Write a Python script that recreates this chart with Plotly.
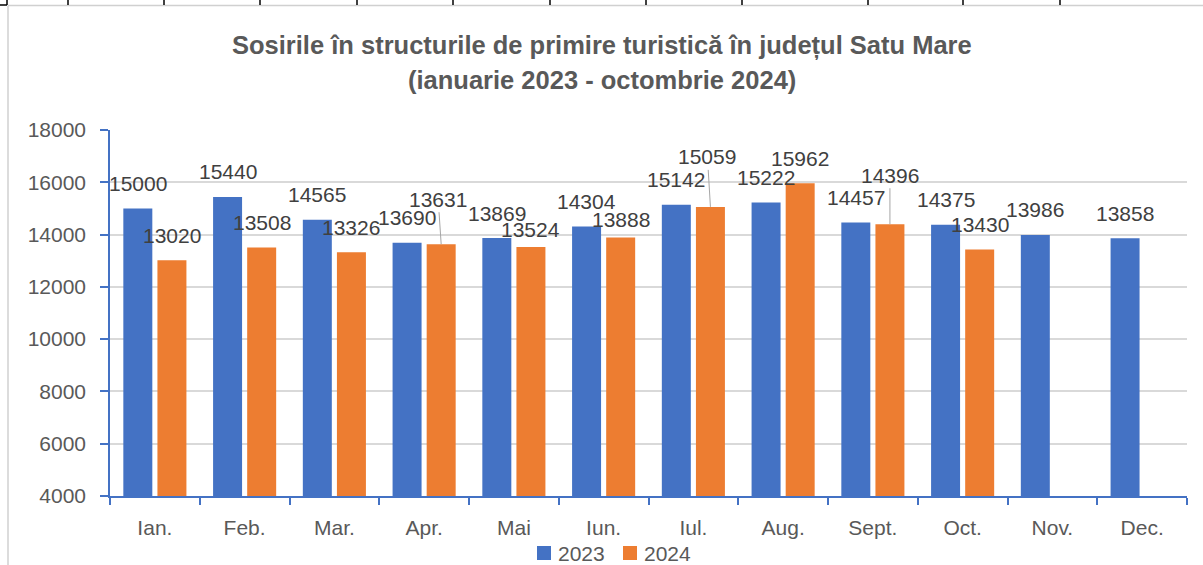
import plotly.graph_objects as go

# ---------------- data ----------------
months = ["Ian.", "Feb.", "Mar.", "Apr.", "Mai", "Iun.", "Iul.", "Aug.", "Sept.", "Oct.", "Nov.", "Dec."]
values_2023 = [15000, 15440, 14565, 13690, 13869, 14304, 15142, 15222, 14457, 14375, 13986, 13858]
values_2024 = [13020, 13508, 13326, 13631, 13524, 13888, 15059, 15962, 14396, 13430, None, None]
series_names = ["2023", "2024"]
y_ticks = [4000, 6000, 8000, 10000, 12000, 14000, 16000, 18000]

title_line1 = "Sosirile în structurile de primire turistică în județul Satu Mare"
title_line2 = "(ianuarie 2023 - octombrie 2024)"

# ---------------- style ----------------
BLUE = "#4472C4"
ORANGE = "#ED7D31"
GRID = "#D9D9D9"
TXT = "#595959"
LBL = "#404040"
FONT = "Liberation Sans"
FS = 21

W, H = 1203, 565
ML, MR, MT, MB = 110, 16, 130, 69
PW, PH = W - ML - MR, H - MT - MB

BARGAP = 0.24
BARGROUPGAP = 0.15
slot = (1 - BARGAP) / 2
series_offset = [-slot / 2, slot / 2]
series_colors = [BLUE, ORANGE]

# label pixel offsets: default above bar; some adjusted (dx, dy, leader line)
DEFAULT_DY = 25
label_adjust = {
    (1, 3): (-3, 45, True),
    (1, 4): (0, 18, False),
    (1, 5): (0, 18, False),
    (1, 6): (-3, 50, True),
    (1, 8): (0, 49, True),
}

fig = go.Figure()
for si, (name, vals) in enumerate(zip(series_names, [values_2023, values_2024])):
    fig.add_trace(go.Bar(
        name=name, x=months, y=vals, marker=dict(color=series_colors[si], line=dict(width=0)),
        hoverinfo="x+y",
    ))


def px(xp):
    return (xp - ML) / PW


def py(yp):
    return (H - MB - yp) / PH


annotations = []
for si, vals in enumerate([values_2023, values_2024]):
    for mi, v in enumerate(vals):
        if v is None:
            continue
        dx, dy, leader = label_adjust.get((si, mi), (0, DEFAULT_DY, False))
        xpos = mi + series_offset[si]
        if leader:
            annotations.append(dict(
                x=xpos, y=v, xref="x", yref="y", text=str(v), showarrow=True,
                arrowhead=0, arrowwidth=1, arrowcolor="#A6A6A6", standoff=0,
                ax=dx, ay=-dy, font=dict(family=FONT, size=FS, color=LBL),
            ))
        else:
            annotations.append(dict(
                x=xpos, y=v, xref="x", yref="y", text=str(v), showarrow=False,
                xshift=dx, yshift=dy, yanchor="middle", xanchor="center",
                font=dict(family=FONT, size=FS, color=LBL),
            ))

# title as two annotations
for txt, yc in [(title_line1, 45), (title_line2, 80)]:
    annotations.append(dict(
        x=px(W / 2), y=py(yc), xref="paper", yref="paper", text="<b>" + txt + "</b>",
        showarrow=False, xanchor="center", yanchor="middle",
        font=dict(family=FONT, size=25.5, color=TXT),
    ))

shapes = []
# manual legend (squares + series names)
legend_x = [537, 623]
for si, name in enumerate(series_names):
    x0 = legend_x[si]
    shapes.append(dict(type="rect", xref="paper", yref="paper",
                       x0=px(x0), x1=px(x0 + 14), y0=py(546), y1=py(560),
                       fillcolor=series_colors[si], line=dict(width=0), layer="above"))
    annotations.append(dict(x=px(x0 + 19), y=py(553), xref="paper", yref="paper", text=name,
                            showarrow=False, xanchor="left", yanchor="middle",
                            font=dict(family=FONT, size=FS, color=TXT)))

# spreadsheet frame decorations
shapes += [
    dict(type="line", xref="paper", yref="paper", x0=px(8), x1=px(W), y0=py(5.5), y1=py(5.5),
         line=dict(color="#D0D0D0", width=1.5), layer="above"),
    dict(type="line", xref="paper", yref="paper", x0=px(8), x1=px(8), y0=py(5.5), y1=py(H),
         line=dict(color="#D0D0D0", width=1.5), layer="above"),
    dict(type="line", xref="paper", yref="paper", x0=px(0), x1=px(7), y0=py(5), y1=py(5),
         line=dict(color="black", width=1.5), layer="above"),
    dict(type="line", xref="paper", yref="paper", x0=px(7), x1=px(7), y0=py(0), y1=py(5),
         line=dict(color="black", width=1.5), layer="above"),
]
for tx in [68, 164, 260, 357, 453, 550, 646, 742, 868, 963, 1060]:
    shapes.append(dict(type="line", xref="paper", yref="paper", x0=px(tx), x1=px(tx), y0=py(0), y1=py(5),
                       line=dict(color="black", width=1.5), layer="above"))

fig.update_layout(
    width=W, height=H, autosize=False,
    margin=dict(l=ML, r=MR, t=MT, b=MB, pad=0),
    paper_bgcolor="white", plot_bgcolor="white",
    barmode="group", bargap=BARGAP, bargroupgap=BARGROUPGAP,
    font=dict(family=FONT, size=FS, color=TXT),
    xaxis=dict(type="category", tickson="boundaries", showgrid=False, automargin=False,
               showline=True, linecolor=BLUE, linewidth=1.5,
               ticks="outside", ticklen=7, tickwidth=1.5, tickcolor=BLUE,
               tickfont=dict(family=FONT, size=FS, color=TXT), ticklabelstandoff=12,
               range=[-0.5, 11.5], fixedrange=True),
    yaxis=dict(range=[4000, 18000], tickvals=y_ticks, ticktext=[str(t) for t in y_ticks],
               showgrid=True, gridcolor=GRID, gridwidth=1.5, zeroline=False, automargin=False,
               showline=True, linecolor=BLUE, linewidth=1.5,
               ticks="outside", ticklen=8, tickwidth=1.5, tickcolor=BLUE,
               tickfont=dict(family=FONT, size=FS, color=TXT), ticklabelstandoff=10,
               fixedrange=True),
    annotations=annotations,
    shapes=shapes,
    showlegend=False,
)

fig.write_html("out.html", post_script="document.body.style.margin='0';",
               config={"displayModeBar": False, "responsive": False})
